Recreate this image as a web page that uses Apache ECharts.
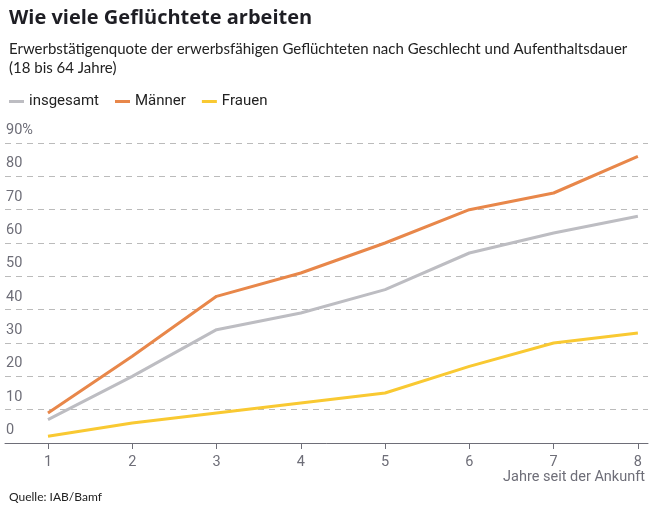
<!DOCTYPE html>
<html><head><meta charset="utf-8">
<script src="https://cdn.jsdelivr.net/npm/echarts@6/dist/echarts.min.js"></script>
<style>html,body{margin:0;padding:0;background:#fff}#c{width:650px;height:505px}</style>
</head><body><div id="c"></div>
<script>
const years = [1, 2, 3, 4, 5, 6, 7, 8];
const insgesamt = [7, 20, 34, 39, 46, 57, 63, 68];
const maenner = [9, 26, 44, 51, 60, 70, 75, 86];
const frauen = [2, 6, 9, 12, 15, 23, 30, 33];
const yTicks = [0, 10, 20, 30, 40, 50, 60, 70, 80, 90];

const narrow = 'Roboto, sans-serif';
const chart = echarts.init(document.getElementById('c'));
const pair = (arr) => years.map((y, i) => [y, arr[i]]);
chart.setOption({
  animation: false,
  title: [
    {text: 'Wie viele Geflüchtete arbeiten', left: 4, top: 3,
     textStyle: {fontFamily: 'Open Sans', fontWeight: 'bold', fontSize: 20, color: '#1e1e24'}},
    {text: 'Erwerbstätigenquote der erwerbsfähigen Geflüchteten nach Geschlecht und Aufenthaltsdauer\n(18 bis 64 Jahre)',
     left: 4, top: 35, textStyle: {fontFamily: 'Lato', fontWeight: 'normal', fontSize: 15, lineHeight: 19, color: '#222'}},
    {text: 'Quelle: IAB/Bamf', left: 4, top: 486,
     textStyle: {fontFamily: 'Lato', fontWeight: 'normal', fontSize: 12, color: '#222'}}
  ],
  legend: {
    left: 4, top: 89, itemWidth: 15, itemHeight: 3, itemGap: 16, icon: 'rect',
    textStyle: {fontFamily: narrow, fontSize: 15, color: '#222'},
    data: ['insgesamt', 'Männer', 'Frauen']
  },
  grid: {left: 5, right: 2, top: 143, bottom: 62},
  xAxis: {
    type: 'value', min: 0.49, max: 8.12,
    name: 'Jahre seit der Ankunft', nameLocation: 'end',
    nameGap: 0,
    nameTextStyle: {fontFamily: narrow, fontSize: 14.5, color: '#6e6e78', align: 'right', verticalAlign: 'top', padding: [27, 3, 0, 0]},
    axisLine: {lineStyle: {color: '#6e6e78', width: 1}},
    axisTick: {show: true, length: 6, customValues: years, lineStyle: {color: '#6e6e78'}},
    axisLabel: {customValues: years, margin: 12, fontFamily: narrow, fontSize: 14.5, color: '#6e6e78'},
    splitLine: {show: false}
  },
  yAxis: {
    type: 'value', min: 0, max: 90, interval: 10,
    axisLine: {show: false}, axisTick: {show: false},
    axisLabel: {inside: true, margin: 1, verticalAlign: 'bottom', padding: [0, 0, 5, 0],
      fontFamily: narrow, fontSize: 14.5, color: '#6e6e78',
      formatter: v => v === 90 ? '90%' : String(v)},
    splitLine: {lineStyle: {color: '#bbb', type: [6, 5], width: 1}}
  },
  series: [
    {name: 'insgesamt', type: 'line', data: pair(insgesamt), showSymbol: false, color: '#bdbdc2', lineStyle: {width: 3}, z: 2},
    {name: 'Männer', type: 'line', data: pair(maenner), showSymbol: false, color: '#e8874a', lineStyle: {width: 3}, z: 3},
    {name: 'Frauen', type: 'line', data: pair(frauen), showSymbol: false, color: '#f9c932', lineStyle: {width: 3}, z: 3}
  ]
});
</script></body></html>
